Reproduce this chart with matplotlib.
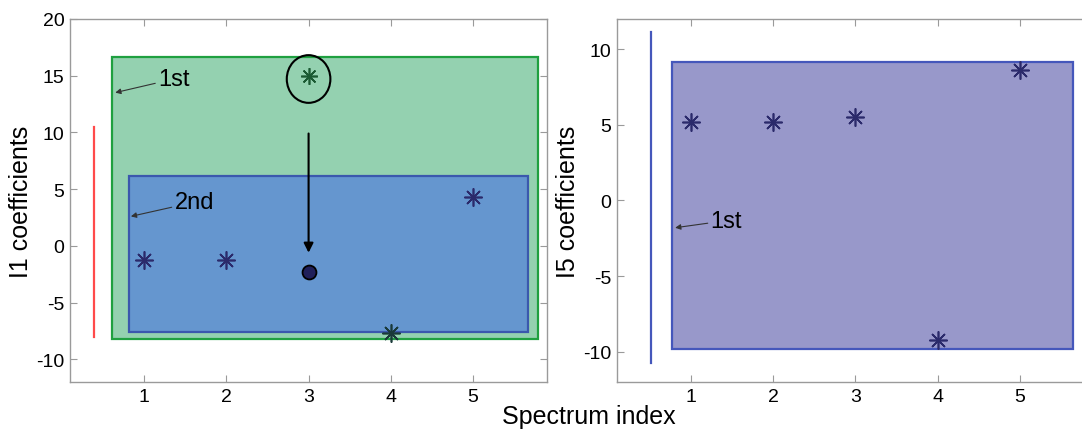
import matplotlib
matplotlib.use('Agg')
import matplotlib.pyplot as plt
from matplotlib.patches import Rectangle, Ellipse

plt.rcParams['font.family'] = ['Liberation Sans', 'DejaVu Sans']
plt.rcParams['axes.unicode_minus'] = False

# data
idx = [1, 2, 3, 4, 5]
l1_coef = [-1.25, -1.25, 15.0, -7.7, 4.3]
l5_coef = [5.2, 5.2, 5.5, -9.2, 8.6]
l1_moved = (3, -2.3)          # outlier pulled into the 2nd box
box1_l1 = [0.61, 5.79, -8.2, 16.6]   # x0, x1, y0, y1
box2_l1 = [0.82, 5.67, -7.55, 6.2]
box1_l5 = [0.77, 5.64, -9.82, 9.18]
red_bar = [0.39, -8.0, 10.5]
blue_bar = [0.52, -10.75, 11.16]

navy = '#2b2a6b'
fig = plt.figure(figsize=(10.82, 4.31), dpi=100)
ax1 = fig.add_axes([0.0647, 0.111, 0.441, 0.843])
ax2 = fig.add_axes([0.570, 0.111, 0.441, 0.843])

def style(ax, ylim, yticks):
    ax.set_xlim(0.1, 5.9)
    ax.set_ylim(*ylim)
    ax.set_xticks(idx)
    ax.set_yticks(yticks)
    for s in ax.spines.values():
        s.set_color('#9a9a9a')
        s.set_linewidth(1.0)
    ax.tick_params(axis='both', direction='in', top=True, right=True,
                   color='#9a9a9a', labelsize=14, length=5, pad=4)

def box(ax, b, fc, ec):
    ax.add_patch(Rectangle((b[0], b[2]), b[1]-b[0], b[3]-b[2],
                           facecolor=fc, edgecolor=ec, lw=1.6, zorder=1))

# left panel
style(ax1, (-12, 20), [-10, -5, 0, 5, 10, 15, 20])
box(ax1, box1_l1, '#94d1b0', '#1fa040')
box(ax1, box2_l1, '#6596cf', '#3b58ad')
ax1.plot([red_bar[0], red_bar[0]], red_bar[1:], color='#ff4a4a', lw=1.6)
ax1.plot([idx[i] for i in (0, 1, 4)], [l1_coef[i] for i in (0, 1, 4)],
         ls='none', marker=(8, 2, 0), ms=13, mec=navy, mew=1.2, zorder=4)
ax1.plot(idx[3], l1_coef[3], ls='none', marker=(8, 2, 0), ms=13,
         mec='#1a3a3a', mew=1.2, zorder=4)
ax1.plot(idx[2], l1_coef[2], ls='none', marker=(8, 2, 0), ms=12,
         mec='#1b5a33', mew=1.2, zorder=4)
ax1.add_patch(Ellipse((3, 14.7), 0.53, 4.2, fill=False, ec='black', lw=1.5, zorder=4))
ax1.annotate('', xy=(3, -0.6), xytext=(3, 9.9),
             arrowprops=dict(arrowstyle='-|>', color='black', lw=1.5,
                             mutation_scale=14, shrinkA=0, shrinkB=0), zorder=5)
ax1.plot(*l1_moved, ls='none', marker='o', ms=10, mfc='#20205a', mec='black',
         mew=1.3, zorder=5)
thin = dict(arrowstyle='-|>', color='#333333', lw=0.8, mutation_scale=8,
            shrinkA=0, shrinkB=0)
ax1.annotate('1st', xy=(0.65, 13.5), xytext=(1.17, 14.7), fontsize=17,
             va='center', arrowprops=thin)
ax1.annotate('2nd', xy=(0.84, 2.6), xytext=(1.37, 3.85), fontsize=17,
             va='center', arrowprops=thin)
ax1.set_ylabel('I1 coefficients', fontsize=18, labelpad=2)

# right panel
style(ax2, (-12, 12), [-10, -5, 0, 5, 10])
box(ax2, box1_l5, '#9898ca', '#4557bb')
ax2.plot([blue_bar[0], blue_bar[0]], blue_bar[1:], color='#4557bb', lw=1.6)
ax2.plot(idx, l5_coef, ls='none', marker=(8, 2, 0), ms=13, mec=navy,
         mew=1.2, zorder=4)
ax2.annotate('1st', xy=(0.81, -1.8), xytext=(1.24, -1.33), fontsize=17,
             va='center', arrowprops=thin)
ax2.set_ylabel('I5 coefficients', fontsize=18, labelpad=2)

fig.text(0.544, 0.032, 'Spectrum index', fontsize=18, ha='center', va='center')
fig.savefig('out.png', dpi=100)
